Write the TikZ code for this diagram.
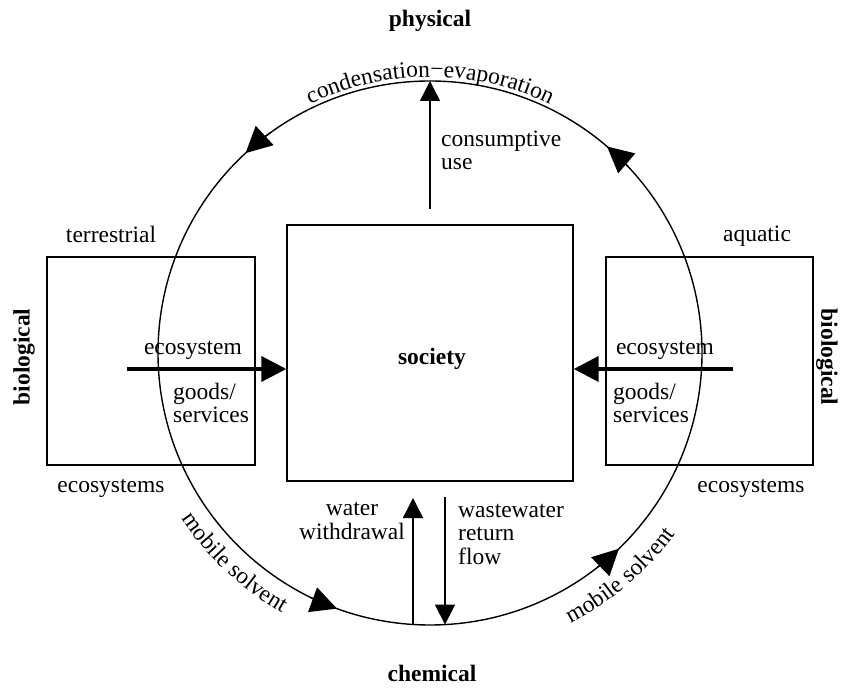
\documentclass[tikz,border=0pt]{standalone}
\usepackage{fontspec}
\setmainfont{Liberation Serif}
\usetikzlibrary{arrows.meta,decorations.text,calc}
\begin{document}
\begin{tikzpicture}[x=1pt,y=1pt,
  lbl/.style={font=\fontsize{23.5}{23.5}\selectfont, inner sep=0pt},
  bld/.style={font=\bfseries\fontsize{23.5}{23.5}\selectfont, inner sep=0pt},
  boxst/.style={draw, line width=1.4pt, inner sep=0pt},
  flowarrow/.style={line width=1.4pt, -{Triangle[length=20pt,width=20pt]}},
  thickarrow/.style={line width=4pt, -{Triangle[length=25pt,width=25pt]}},
  cyc/.style={line width=1.4pt, -{Triangle[length=26pt,width=26pt]}},
  ringtext/.style={decorate, decoration={text along path, text align=center}}]
\useasboundingbox (0,0) rectangle (842,688);
\def\R{272pt}
\coordinate (C) at (430,335);
% boxes
\node[boxst, minimum width=286pt, minimum height=256pt] (society) at (430,335) {};
\node[bld, anchor=base] (societylbl) at (432,323) {society};
\node[boxst, minimum width=208pt, minimum height=208pt] (terr) at (151,327) {};
\node[boxst, minimum width=207pt, minimum height=208pt] (aqua) at (709.5,327) {};
% circle
\draw[line width=1.4pt] (C) circle (\R);
\draw[cyc] ([shift={(126:\R)}]C) arc[start angle=126, end angle=132.7, radius=\R];
\draw[cyc] ([shift={(43:\R)}]C) arc[start angle=43, end angle=49.4, radius=\R];
\draw[cyc] ([shift={(244:\R)}]C) arc[start angle=244, end angle=250, radius=\R];
\draw[cyc] ([shift={(308:\R)}]C) arc[start angle=308, end angle=314, radius=\R];
% ring texts
\path[ringtext, decoration={text={|\fontsize{23.5}{28}\selectfont|condensation−evaporation}}]
  ([shift={(130:276pt)}]C) arc[start angle=130, end angle=50, radius=276pt];
\path[ringtext, decoration={text={|\fontsize{23.5}{28}\selectfont|mobile solvent}}]
  ([shift={(193:299pt)}]C) arc[start angle=193, end angle=261, radius=299pt];
\path[ringtext, decoration={text={|\fontsize{23.5}{28}\selectfont|mobile solvent}}]
  ([shift={(276.5:305pt)}]C) arc[start angle=276.5, end angle=344.5, radius=305pt];
% straight arrows
\coordinate (ctop) at ([shift={(90:\R)}]C);
\draw[flowarrow] ([yshift=15pt]society.north) -- (ctop);
\coordinate (ww1) at (413,63.5);
\coordinate (ww2) at (413,190);
\draw[flowarrow] (ww1) -- (ww2);
\coordinate (wr1) at (445,191);
\coordinate (wr2) at (445,63.4);
\draw[flowarrow] (wr1) -- (wr2);
\coordinate (el) at (127,319);
\draw[thickarrow] (el) -- (el -| society.west);
\coordinate (er) at (733,319);
\draw[thickarrow] (er) -- (er -| society.east);
% labels
\node[bld, anchor=base] (phys) at (430,661) {physical};
\node[bld, anchor=base] (chem) at (432,7) {chemical};
\node[bld, rotate=90] (bioL) at (24,331) {biological};
\node[bld, rotate=-90] (bioR) at (827,331) {biological};
\node[lbl, anchor=base] (terrlbl) at (111,445) {terrestrial};
\node[lbl, anchor=base] (aqualbl) at (757,446) {aquatic};
\node[lbl, anchor=base] (ecoL) at (111,196) {ecosystems};
\node[lbl, anchor=base] (ecoR) at (751,196) {ecosystems};
\node[lbl, anchor=base] (esL) at (193,333) {ecosystem};
\node[lbl, anchor=base] (esR) at (665,333) {ecosystem};
\node[lbl, anchor=base west, align=left] (gsL) at (173,265) {goods/\\services};
\node[lbl, anchor=base west, align=left] (gsR) at (613,265) {goods/\\services};
\node[lbl, anchor=base west, align=left] (cons) at (441,518) {consumptive\\use};
\node[lbl, anchor=base, align=center] (wwlbl) at (352,149) {water\\withdrawal};
\node[lbl, anchor=base west, align=left] (wrlbl) at (458,124) {wastewater\\return\\flow};
\end{tikzpicture}
\end{document}
